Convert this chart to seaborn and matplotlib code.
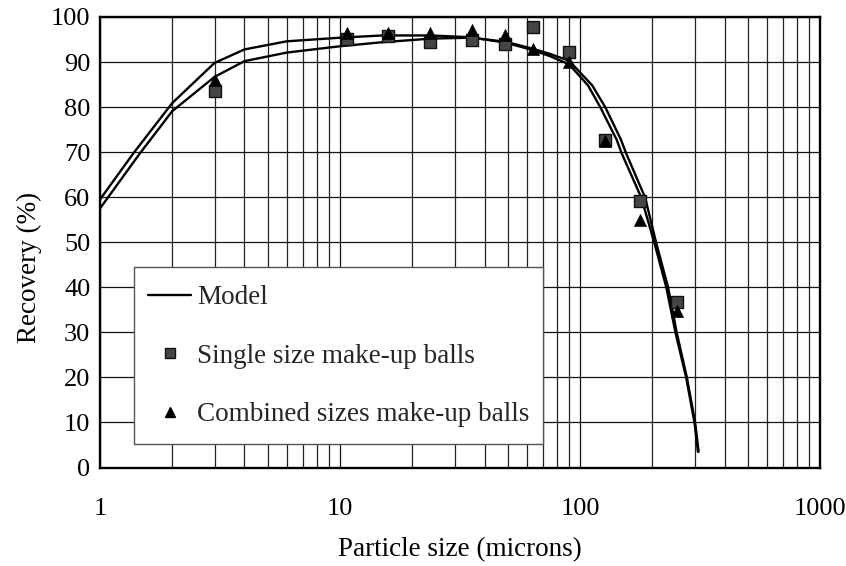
import matplotlib
matplotlib.use("Agg")
import matplotlib.pyplot as plt
from matplotlib.lines import Line2D
from matplotlib.patches import Rectangle
from matplotlib.ticker import LogLocator, FixedLocator, NullFormatter
import numpy as np
import pandas as pd
import seaborn as sns

# Model curves (two fitted curves)
model_a_size = [1, 1.38, 2, 3, 4, 6, 10, 15, 24, 35, 49, 63, 75, 90, 108, 121.7,
                142, 149, 180, 204, 229, 250, 277, 300, 310]
model_a_rec = [59.5, 69.8, 80.9, 89.8, 92.8, 94.6, 95.4, 95.9, 95.9, 95.5, 94.3,
               92.7, 91.3, 89.5, 84.8, 79.9, 72.8, 69.8, 59.9, 49.9, 39.9, 29.9,
               19.9, 9.9, 3.5]
model_b_size = [1, 1.47, 2, 3, 4, 6, 10, 15, 24, 35, 49, 63, 75, 90, 112.5, 127.6,
                148, 155.5, 186.8, 207.6, 233, 253, 279, 302, 312]
model_b_rec = [57.5, 69.8, 79.1, 86.7, 90.2, 92.1, 93.5, 94.4, 95.2, 95.4, 94.5,
               93.0, 91.8, 90.3, 84.8, 79.9, 72.8, 69.8, 59.9, 49.9, 39.9, 29.9,
               19.9, 9.9, 3.5]

# Measured recoveries
single_size = [3, 10.7, 15.8, 23.6, 35.4, 48.6, 63.5, 89.7, 127, 178.5, 254]
single_rec = [83.5, 95.2, 95.7, 94.5, 95.0, 93.9, 97.8, 92.3, 72.6, 59.1, 36.7]
combined_size = [3, 10.7, 15.8, 23.6, 35.4, 48.6, 63.5, 89.7, 127, 178.5, 254]
combined_rec = [86.0, 96.5, 96.5, 96.5, 97.2, 96.0, 92.8, 90.0, 72.5, 54.9, 34.7]

y_ticks = [0, 10, 20, 30, 40, 50, 60, 70, 80, 90, 100]
x_ticks = [1, 10, 100, 1000]
x_ticklabels = ["1", "10", "100", "1000"]

sns.set_theme(style="white")
plt.rcParams["font.family"] = ["Liberation Serif", "DejaVu Serif"]
plt.rcParams["font.size"] = 19

model_df = pd.concat([
    pd.DataFrame({"size": model_a_size, "rec": model_a_rec, "curve": "a"}),
    pd.DataFrame({"size": model_b_size, "rec": model_b_rec, "curve": "b"}),
], ignore_index=True)
single_df = pd.DataFrame({"size": single_size, "rec": single_rec})
combined_df = pd.DataFrame({"size": combined_size, "rec": combined_rec})

fig = plt.figure(figsize=(8.46, 5.66), dpi=100)
ax = fig.add_axes([0.1182, 0.174, 0.8511, 0.796])
ax.set_xscale("log")

# grid first so that it sits beneath the data
ax.set_axisbelow(True)
ax.grid(which="major", axis="both", color="#111111", linewidth=0.9)
ax.grid(which="minor", axis="x", color="#222222", linewidth=0.9)

sns.lineplot(data=model_df, x="size", y="rec", units="curve", estimator=None,
             sort=False, color="black", linewidth=1.7, ax=ax, legend=False)
sns.scatterplot(data=single_df, x="size", y="rec", marker="s", s=64,
                color="#454545", edgecolor="#111111", linewidth=1.0, ax=ax,
                zorder=3)
sns.scatterplot(data=combined_df, x="size", y="rec", marker="^", s=75,
                color="black", edgecolor="black", linewidth=0.5, ax=ax,
                zorder=4)

ax.set_xlim(1, 1000)
ax.set_ylim(0, 100)
ax.xaxis.set_major_locator(FixedLocator(x_ticks))
ax.set_xticklabels(x_ticklabels)
ax.xaxis.set_minor_locator(LogLocator(base=10, subs=np.arange(2, 10)))
ax.xaxis.set_minor_formatter(NullFormatter())
ax.set_yticks(y_ticks)

ax.tick_params(axis="both", which="major", direction="out", length=5,
               width=1.0, color="black", labelsize=19, labelcolor="black")
ax.tick_params(axis="x", which="major", pad=17)
ax.tick_params(axis="y", which="major", pad=2)
ax.tick_params(axis="x", which="minor", length=0)

for side in ["left", "bottom", "top", "right"]:
    ax.spines[side].set_visible(True)
    ax.spines[side].set_color("black")
    ax.spines[side].set_linewidth(1.7)

ax.set_xlabel("Particle size (microns)", fontsize=19.5, color="black", labelpad=12.5)
ax.set_ylabel("Recovery (%)", fontsize=19.5, color="black")
ax.yaxis.set_label_coords(-0.081, 0.443)

handles = [
    Line2D([], [], color="black", linewidth=1.7),
    Line2D([], [], marker="s", linestyle="none", markersize=7.5,
           markerfacecolor="#454545", markeredgecolor="#111111"),
    Line2D([], [], marker="^", linestyle="none", markersize=7.5,
           markerfacecolor="black", markeredgecolor="black"),
]
labels = ["Model", "Single size make-up balls", "Combined sizes make-up balls"]
leg = ax.legend(handles, labels, loc="center left",
                bbox_to_anchor=(0.0667, 0.2467), fontsize=19.5, frameon=False,
                handlelength=1.6, handletextpad=0.22, labelspacing=1.24,
                borderpad=0.0, borderaxespad=0)
leg.set_zorder(6)

# legend box drawn as a separate white panel behind the entries
fig.canvas.draw()
bb = leg.get_window_extent()
to_axes = ax.transAxes.inverted()
fig_h = fig.bbox.height
x0, y0 = to_axes.transform((134, fig_h - 444))
x1, y1 = to_axes.transform((bb.x1 + 13, fig_h - 267))
panel = Rectangle((x0, y0), x1 - x0, y1 - y0, transform=ax.transAxes,
                  facecolor="white", edgecolor="#555555", linewidth=1.0,
                  zorder=5)
ax.add_patch(panel)

fig.savefig("out.png", dpi=100)
